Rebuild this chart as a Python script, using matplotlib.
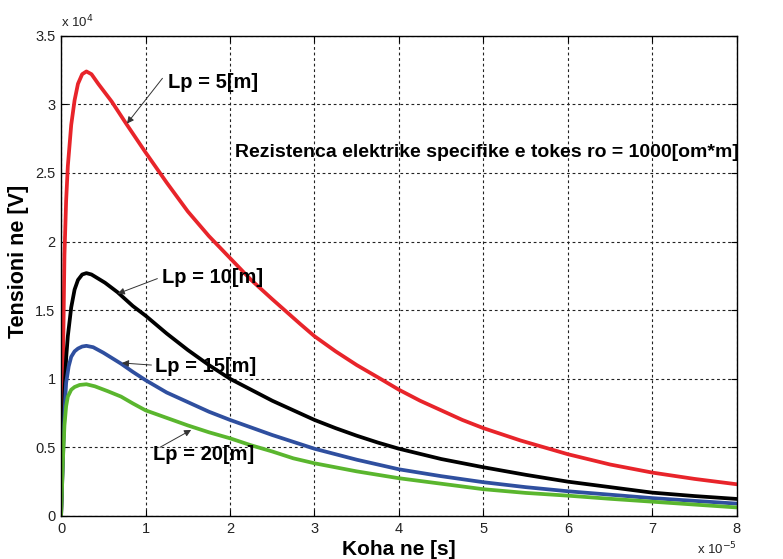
import numpy as np
import matplotlib
matplotlib.use("Agg")
import matplotlib.pyplot as plt

# time in units of 1e-5 s, voltage in units of 1e4 V
t_lp5 = [0, 0.01, 0.02, 0.04, 0.06, 0.08, 0.12, 0.16, 0.20, 0.25, 0.30, 0.36, 0.44, 0.60, 0.77,
         1.0, 1.25, 1.5, 1.75, 2.0, 2.25, 2.5, 2.83, 3.0, 3.25, 3.5, 3.78, 4.0, 4.25, 4.5,
         4.75, 5.0, 5.44, 6.0, 6.5, 7.0, 7.5, 8.0]
u_lp5 = [0, 0.5, 1.0, 1.9, 2.3, 2.55, 2.85, 3.03, 3.15, 3.22, 3.24, 3.22, 3.15, 3.02, 2.86,
         2.65, 2.43, 2.22, 2.04, 1.88, 1.72, 1.58, 1.40, 1.31, 1.20, 1.10, 1.0, 0.92, 0.84, 0.77,
         0.70, 0.64, 0.55, 0.45, 0.375, 0.316, 0.27, 0.231]

t_lp10 = [0, 0.01, 0.02, 0.04, 0.06, 0.08, 0.12, 0.16, 0.20, 0.25, 0.30, 0.36, 0.44, 0.52, 0.67,
          0.85, 1.0, 1.25, 1.5, 1.75, 2.0, 2.25, 2.5, 2.75, 3.0, 3.25, 3.5, 3.75, 4.0, 4.5,
          5.0, 5.5, 6.0, 6.5, 7.0, 7.5, 8.0]
u_lp10 = [0, 0.2, 0.43, 0.9, 1.15, 1.31, 1.52, 1.65, 1.72, 1.76, 1.77, 1.76, 1.73, 1.70, 1.63,
          1.53, 1.46, 1.33, 1.21, 1.10, 1.0, 0.92, 0.84, 0.77, 0.70, 0.64, 0.585, 0.535, 0.49, 0.415,
          0.355, 0.30, 0.25, 0.21, 0.17, 0.145, 0.124]

t_lp15 = [0, 0.01, 0.02, 0.04, 0.06, 0.09, 0.12, 0.16, 0.20, 0.25, 0.30, 0.38, 0.50, 0.71, 0.85,
          1.0, 1.25, 1.5, 1.75, 2.0, 2.25, 2.5, 2.75, 3.0, 3.5, 4.0, 4.5, 5.0, 5.5, 6.0,
          6.5, 7.0, 7.5, 8.0]
u_lp15 = [0, 0.18, 0.38, 0.75, 0.97, 1.09, 1.16, 1.20, 1.22, 1.235, 1.24, 1.23, 1.19, 1.11, 1.05,
          0.99, 0.90, 0.83, 0.76, 0.70, 0.645, 0.59, 0.54, 0.49, 0.41, 0.34, 0.29, 0.246, 0.21, 0.18,
          0.155, 0.13, 0.11, 0.09]

t_lp20 = [0, 0.01, 0.02, 0.04, 0.06, 0.08, 0.12, 0.16, 0.22, 0.30, 0.40, 0.55, 0.71, 0.85, 1.0,
          1.25, 1.5, 1.75, 2.0, 2.25, 2.5, 2.75, 3.0, 3.5, 4.0, 4.5, 5.0, 5.5, 6.0, 6.5,
          7.0, 7.5, 8.0]
u_lp20 = [0, 0.18, 0.38, 0.66, 0.80, 0.87, 0.92, 0.94, 0.955, 0.96, 0.945, 0.91, 0.87, 0.82, 0.77,
          0.715, 0.66, 0.61, 0.566, 0.515, 0.47, 0.42, 0.384, 0.325, 0.275, 0.235, 0.195, 0.168, 0.148, 0.125,
          0.104, 0.083, 0.062]

labels = ["Lp = 5[m]", "Lp = 10[m]", "Lp = 15[m]", "Lp = 20[m]"]
colors = ["#e8242a", "#000000", "#2f4f9f", "#5ab62e"]

# label text position, arrow tail, arrow tip (data units)
label_pos = [(1.26, 3.16), (1.19, 1.74), (1.11, 1.086), (1.09, 0.445)]
arrow_tail = [(1.20, 3.19), (1.14, 1.73), (1.07, 1.10), (1.17, 0.50)]
arrow_tip = [(0.78, 2.86), (0.67, 1.62), (0.72, 1.115), (1.54, 0.627)]

plt.rcParams['font.family'] = ['Liberation Sans', 'DejaVu Sans']

fig = plt.figure(figsize=(7.83, 5.59), dpi=100)
ax = fig.add_axes([0.078, 0.077, 0.863, 0.859])

series = [(t_lp5, u_lp5), (t_lp10, u_lp10), (t_lp15, u_lp15), (t_lp20, u_lp20)]
for (t, u), c in zip(series, colors):
    ax.plot(t, u, color=c, lw=2.7, solid_joinstyle='round', solid_capstyle='round')

for lab, pos, tail, tip in zip(labels, label_pos, arrow_tail, arrow_tip):
    ax.text(pos[0], pos[1], lab, fontsize=14.5, fontweight='bold', va='center', ha='left')
    ax.annotate("", xy=tip, xytext=tail,
                arrowprops=dict(arrowstyle='-|>', color='#333333', lw=0.7,
                                mutation_scale=10, shrinkA=0, shrinkB=0))

ax.text(2.06, 2.65, "Rezistenca elektrike specifike e tokes ro = 1000[om*m]",
        fontsize=14, fontweight='bold', va='center', ha='left')

ax.set_xlim(0, 8)
ax.set_ylim(0, 3.5)
ax.set_xticks(np.arange(0, 9, 1))
ax.set_yticks(np.arange(0, 3.51, 0.5))
ax.set_xticklabels([str(v) for v in range(9)])
ax.set_yticklabels(["0", "0.5", "1", "1.5", "2", "2.5", "3", "3.5"])
ax.tick_params(direction='in', length=4, top=True, right=True,
               labelsize=10.5, labelcolor='#222222', pad=4)
ax.grid(True, color='#222222', linestyle=(0, (2.5, 2.5)), linewidth=0.8)
for sp in ax.spines.values():
    sp.set_linewidth(1.0)

ax.set_xlabel("Koha ne [s]", fontsize=15, fontweight='bold', labelpad=3)
ax.set_ylabel("Tensioni ne [V]", fontsize=15.5, fontweight='bold')
ax.yaxis.set_label_coords(-0.048, 0.531)

ax.text(0.0, 1.012, r"x 10$^{4}$", transform=ax.transAxes, fontsize=9.5,
        color='#222222', ha='left', va='bottom')
ax.text(1.0, -0.052, r"x 10$^{-5}$", transform=ax.transAxes, fontsize=9.5,
        color='#222222', ha='right', va='top')

fig.savefig("out.png", dpi=100)
